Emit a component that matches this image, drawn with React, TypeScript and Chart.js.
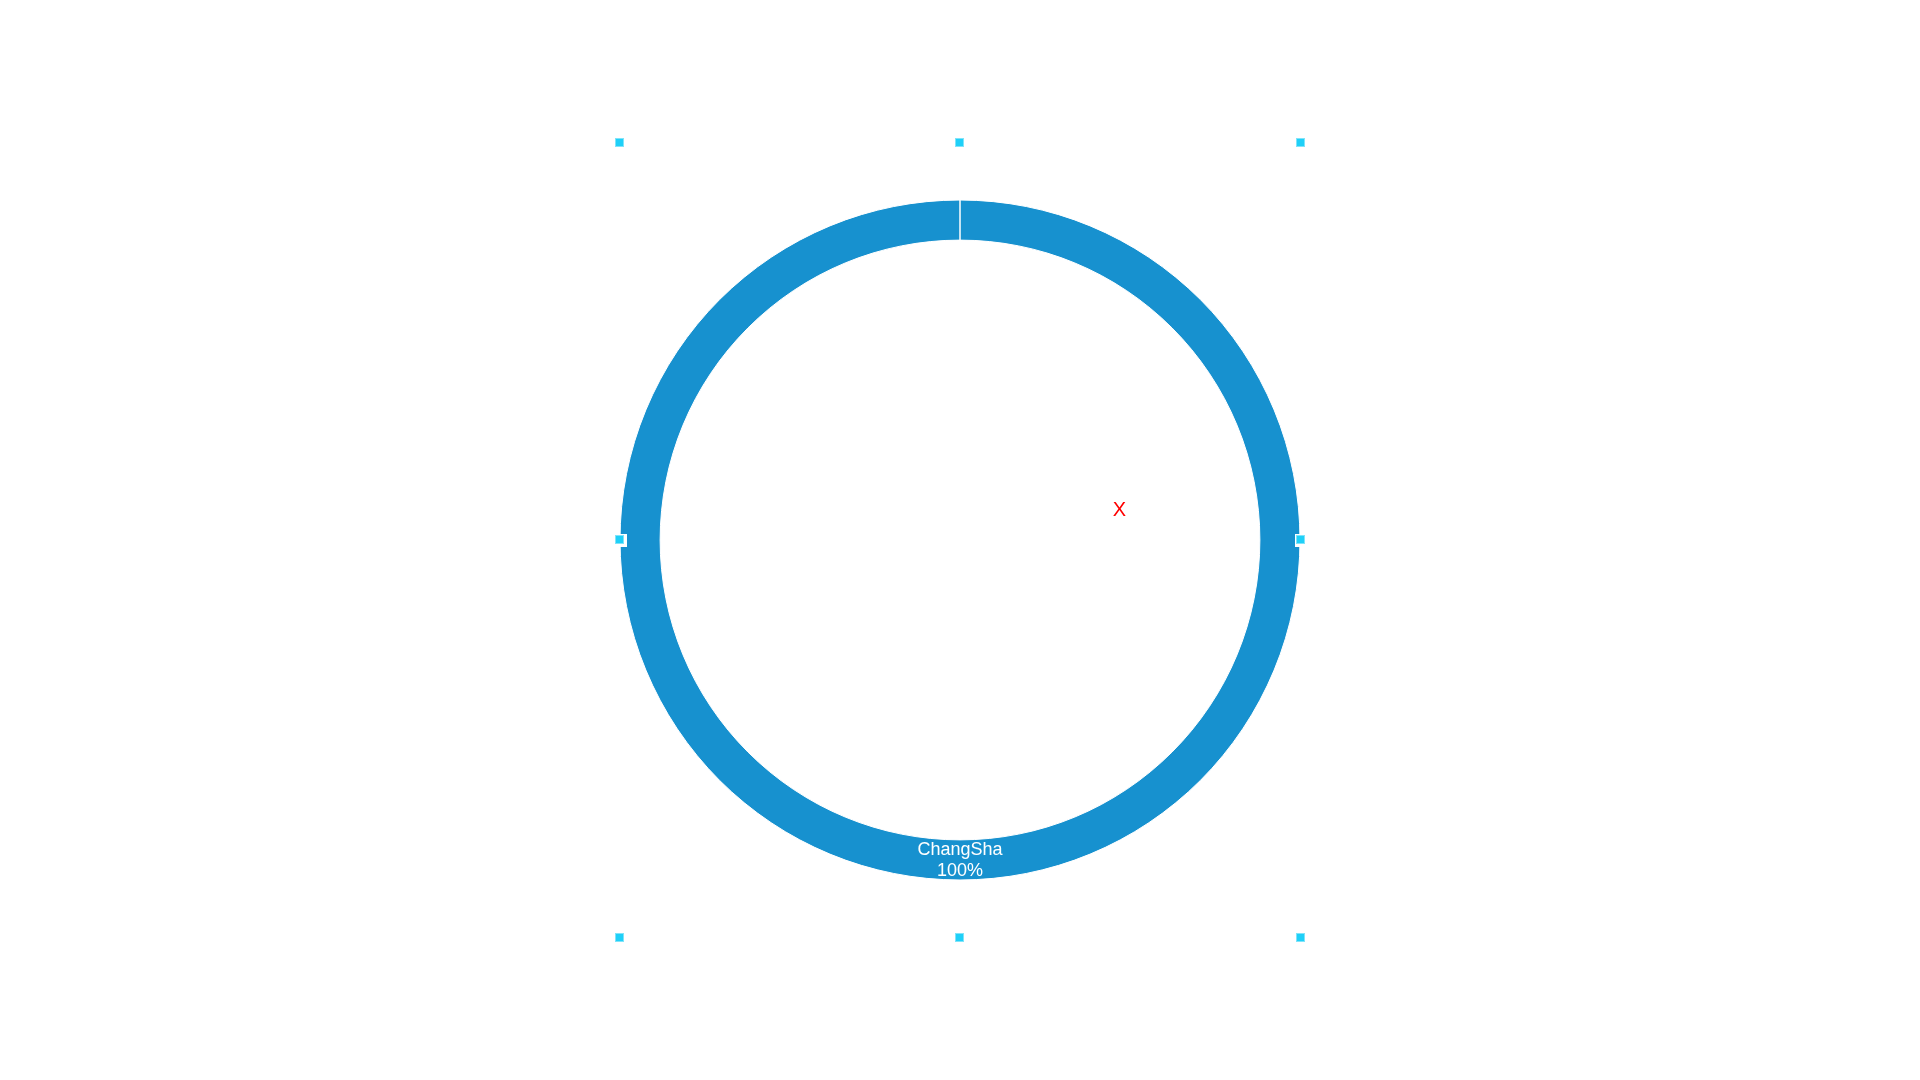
import React, { useEffect, useRef } from "react";
import { Chart, registerables } from "chart.js";

Chart.register(...registerables);

const categories = ["ChangSha"];
const values = [100];
const percentLabels = ["100%"];
const ringColor = "#1791CF";

const handlesPlugin = {
  id: "handles",
  afterDraw(chart: any) {
    const { ctx, chartArea } = chart;
    const xs = [chartArea.left, (chartArea.left + chartArea.right) / 2, chartArea.right];
    const ys = [chartArea.top, (chartArea.top + chartArea.bottom) / 2, chartArea.bottom];
    ctx.save();
    ys.forEach((y, yi) => {
      xs.forEach((x, xi) => {
        if (xi === 1 && yi === 1) return;
        ctx.fillStyle = "#ffffff";
        ctx.fillRect(Math.round(x) - 6, Math.round(y) - 6, 13, 13);
        ctx.fillStyle = "#7fe4fa";
        ctx.fillRect(Math.round(x) - 5, Math.round(y) - 5, 9, 9);
        ctx.fillStyle = "#1fd0f8";
        ctx.fillRect(Math.round(x) - 4, Math.round(y) - 4, 7, 7);
      });
    });
    ctx.restore();
  },
};

const labelPlugin = {
  id: "arcLabels",
  afterDatasetsDraw(chart: any) {
    const { ctx } = chart;
    const meta = chart.getDatasetMeta(0);
    ctx.save();
    ctx.fillStyle = "#ffffff";
    ctx.font = '18px "Liberation Sans", Arial, sans-serif';
    ctx.textAlign = "center";
    ctx.textBaseline = "middle";
    meta.data.forEach((arc: any, i: number) => {
      const p = arc.tooltipPosition();
      ctx.fillText(categories[i], p.x, p.y - 10);
      ctx.fillText(percentLabels[i], p.x, p.y + 11);
    });
    // red marker
    const c = meta.data[0];
    ctx.fillStyle = "#ff0000";
    ctx.font = '20px "Liberation Sans", Arial, sans-serif';
    ctx.fillText("X", c.x + 159.5, c.y - 30);
    ctx.restore();
  },
};

export default function App() {
  const ref = useRef<HTMLCanvasElement>(null);
  useEffect(() => {
    if (!ref.current) return;
    const chart = new Chart(ref.current, {
      type: "doughnut",
      data: {
        labels: categories,
        datasets: [
          {
            data: values,
            backgroundColor: [ringColor],
            borderColor: "#ffffff",
            borderWidth: 1,
          },
        ],
      },
      options: {
        animation: false,
        responsive: false,
        cutout: "88.2%",
        layout: { padding: { left: 619.5, right: 619.5, top: 142.5, bottom: 142.5 } },
        plugins: { legend: { display: false }, tooltip: { enabled: false } },
      },
      plugins: [labelPlugin, handlesPlugin],
    } as any);
    return () => chart.destroy();
  }, []);
  return (
    <div style={{ position: "absolute", left: 0, top: 0, width: 1920, height: 1080, background: "#fff" }}>
      <canvas ref={ref} width={1920} height={1080} style={{ width: 1920, height: 1080 }} />
    </div>
  );
}
